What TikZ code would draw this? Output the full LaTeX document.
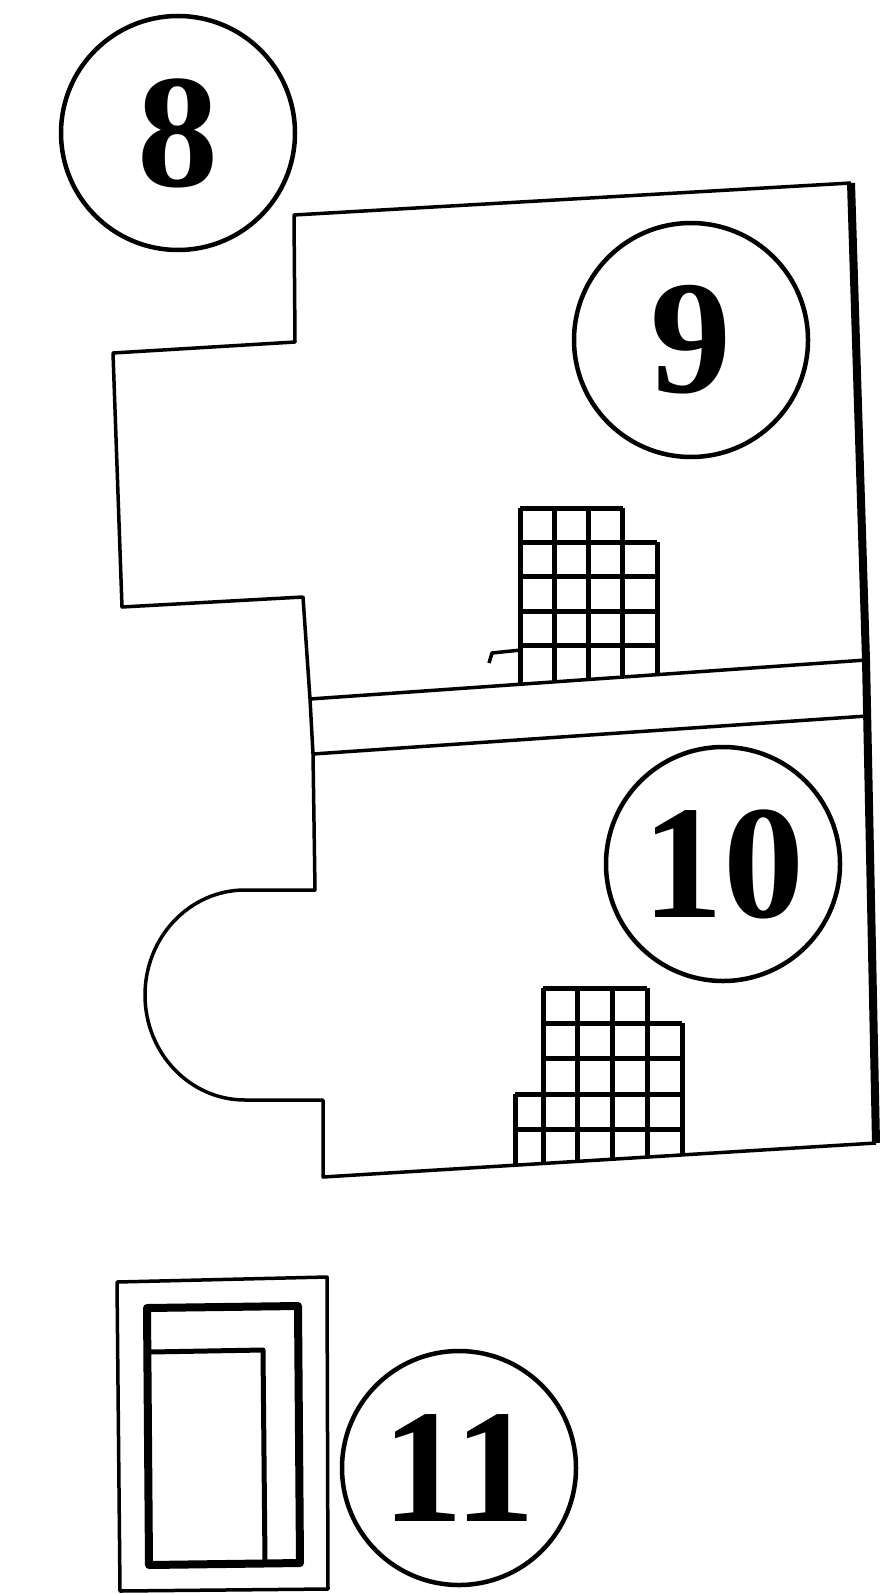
\documentclass[tikz,border=0pt]{standalone}
\usepackage{fontspec}
\setmainfont{Liberation Serif}

\begin{document}
\begin{tikzpicture}[x=1pt, y=-1pt, line join=round,
    numcircle/.style={draw, circle, line width=4.5pt, minimum size=234pt, inner sep=0pt,
        font=\fontsize{162}{162}\selectfont\bfseries}]
    \useasboundingbox (0,0) rectangle (884,1594);
    % Outline of the two pieces.
        \draw[line width=3.5pt] (851,183) -- (294,215) -- (295,342) -- (113,353) -- (122,607)
            -- (303,597) -- (310,699) -- (313,754) -- (315,890) -- (245,890)
            arc[start angle=270, end angle=90, x radius=100, y radius=105]
            -- (323,1100) -- (323,1177) -- (876,1143);
        \draw[line width=8pt] (851,183) -- (866,660) -- (876,1143);
        \draw[line width=3.5pt] (310,699) -- (866,660);
        \draw[line width=3.5pt] (313,754) -- (867,716);
    % Grid in the upper piece.
        \begin{scope}
            \clip (500,400) -- (700,400) -- (700,671.6) -- (500,685.7) -- cycle;
            \foreach \i in {0,1,2,3}
                \draw[line width=5pt] (520+34.3*\i,508) -- (520+34.3*\i,700);
            \draw[line width=5pt] (657.2,542.4) -- (657.2,700);
            \draw[line width=5pt] (520,508) -- (622.9,508);
            \foreach \j in {1,...,4}
                \draw[line width=5pt] (520,508+34.4*\j) -- (657.2,508+34.4*\j);
        \end{scope}
        \draw[line width=3.5pt] (489,663) -- (492,653) -- (521,650);
    % Grid in the lower piece.
        \begin{scope}
            \clip (500,900) -- (700,900) -- (700,1153.8) -- (500,1166.1) -- cycle;
            \foreach \i in {0,1,2,3}
                \draw[line width=5pt] (543+34.75*\i,988) -- (543+34.75*\i,1180);
            \draw[line width=5pt] (682,1023.4) -- (682,1180);
            \draw[line width=5pt] (515,1094.2) -- (515,1180);
            \draw[line width=5pt] (543,988) -- (647.25,988);
            \foreach \j in {1,2}
                \draw[line width=5pt] (543,988+35.4*\j) -- (682,988+35.4*\j);
            \foreach \j in {3,4}
                \draw[line width=5pt] (515,988+35.4*\j) -- (682,988+35.4*\j);
        \end{scope}
    % The framed box at the bottom.
        \draw[line width=3.5pt] (117,1282) -- (327,1277) -- (328,1589) -- (120,1591) -- cycle;
        \draw[line width=8pt] (147,1308) -- (298,1306) -- (300,1563) -- (149,1565) -- cycle;
        \draw[line width=5pt] (150,1352) -- (263,1350) -- (265,1563);
    % Below nodes are the numbers.
        \node[numcircle] (n8) at (178,133) {8};
        \node[numcircle] (n9) at (691,340) {9};
        \node[numcircle] (n10) at (723,864) {10};
        \node[numcircle] (n11) at (459,1468) {11};
\end{tikzpicture}
\end{document}
